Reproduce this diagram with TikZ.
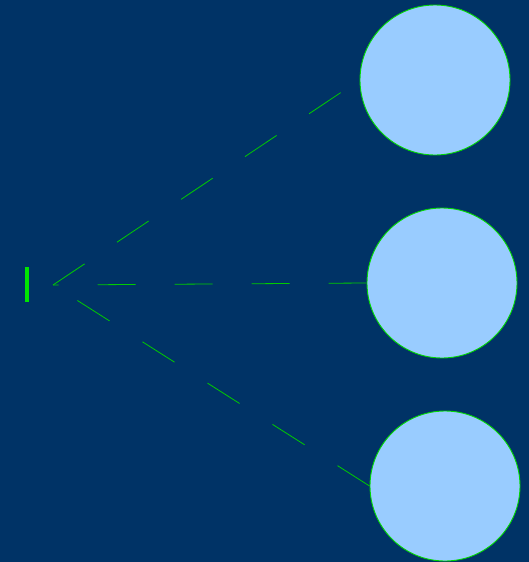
\documentclass[tikz,border=0pt]{standalone}
\begin{document}
\begin{tikzpicture}[x=1pt,y=-1pt,
  bubble/.style={circle,draw=green!85!black,line width=0.9pt,fill=lightblue,minimum size=150pt,inner sep=0pt},
  link/.style={draw=green!80!black,line width=0.8pt,dash pattern=on 38pt off 39pt},
  bar/.style={rectangle,fill=green!90!black,minimum width=4.5pt,minimum height=35pt,inner sep=0pt}]
\definecolor{lightblue}{HTML}{99CCFF}
\definecolor{bgblue}{HTML}{003366}
\fill[bgblue] (0,0) rectangle (529,562);
\useasboundingbox (0,0) rectangle (529,562);
\node[bubble] (c1) at (435,80) {};
\node[bubble] (c2) at (442,283) {};
\node[bubble] (c3) at (445,486) {};
\node[bar] (b) at (27,284.5) {};
\coordinate (src) at (53,285);
\draw[link] (src) -- (c1.west);
\draw[link] (c2.west) -- (src);
\draw[link] (c3.west) -- (src);
\end{tikzpicture}
\end{document}
